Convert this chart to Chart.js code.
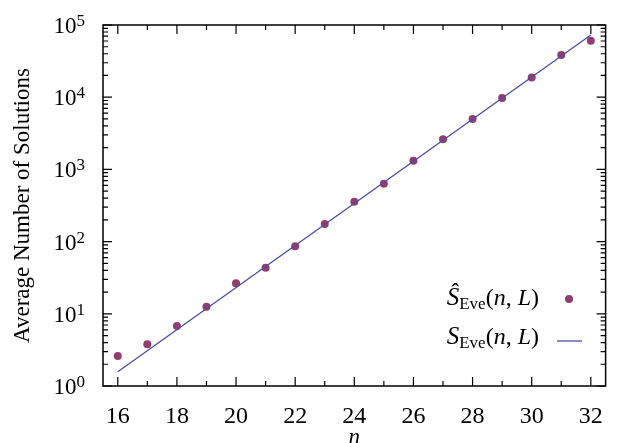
<!DOCTYPE html>
<html>
<head>
<meta charset="utf-8">
<script src="https://cdn.jsdelivr.net/npm/chart.js@4.4.1/dist/chart.umd.min.js"></script>
<style>
  html, body { margin: 0; padding: 0; background: #fff; }
  #wrap { width: 619px; height: 443px; }
</style>
</head>
<body>
<div id="wrap"><canvas id="solChart"></canvas></div>
<script>
// n values and the estimated average number of solutions (dots)
const nValues = [16, 17, 18, 19, 20, 21, 22, 23, 24, 25, 26, 27, 28, 29, 30, 31, 32];
const estimatedSolutions = [2.6, 3.8, 6.8, 12.5, 26.5, 43.5, 86, 175, 357, 633, 1320, 2610, 5000, 9760, 18800, 38400, 60600];
// theoretical curve (straight line in log scale), end points
const curveN = [16, 32];
const curveSolutions = [1.58, 72700];
// axis ticks
const xTicks = [16, 18, 20, 22, 24, 26, 28, 30, 32];
const xMinorTicks = [17, 19, 21, 23, 25, 27, 29, 31];
const yExponents = [0, 1, 2, 3, 4, 5];

const dotColor = '#943c6e';
const lineColor = '#4b4ba8';
const serif = '"Liberation Serif", "Times New Roman", Times, serif';

Chart.defaults.font.family = serif;
Chart.defaults.color = '#000';

// frame, inward ticks on all sides, y labels with exponents, legend
const gnuplotFrame = {
    id: 'gnuplotFrame',
    afterDraw(chart) {
        const ctx = chart.ctx;
        const a = chart.chartArea;
        const xs = chart.scales.x;
        const ys = chart.scales.y;
        ctx.save();
        ctx.strokeStyle = '#000';
        ctx.lineWidth = 1.5;
        ctx.strokeRect(a.left, a.top, a.right - a.left, a.bottom - a.top);

        ctx.lineWidth = 1.2;
        ctx.beginPath();
        const xTick = (v, len) => {
            const px = xs.getPixelForValue(v);
            ctx.moveTo(px, a.bottom); ctx.lineTo(px, a.bottom - len);
            ctx.moveTo(px, a.top); ctx.lineTo(px, a.top + len);
        };
        xTicks.forEach(v => xTick(v, 9));
        xMinorTicks.forEach(v => xTick(v, 5));
        const yTick = (v, len) => {
            const py = ys.getPixelForValue(v);
            ctx.moveTo(a.left, py); ctx.lineTo(a.left + len, py);
            ctx.moveTo(a.right, py); ctx.lineTo(a.right - len, py);
        };
        yExponents.forEach(e => {
            yTick(Math.pow(10, e), 9);
            if (e < 5) {
                for (let m = 2; m <= 9; m++) yTick(m * Math.pow(10, e), 5);
            }
        });
        ctx.stroke();

        // y labels 10^k
        ctx.fillStyle = '#000';
        ctx.textBaseline = 'alphabetic';
        yExponents.forEach(e => {
            const py = ys.getPixelForValue(Math.pow(10, e));
            ctx.font = '17px ' + serif;
            const ew = ctx.measureText(String(e)).width;
            ctx.textAlign = 'right';
            ctx.fillText(String(e), 85, py + 1);
            ctx.font = '23px ' + serif;
            ctx.fillText('10', 85 - ew, py + 8);
        });

        // legend, right aligned text with the sample on the right
        const drawLabel = (hat, xRight, baseline) => {
            const parts = [
                [hat ? 'Ŝ' : 'S', 'italic 25px ', 0],
                ['Eve', '17px ', 4],
                ['(', '24px ', 0],
                ['n', 'italic 24px ', 0],
                [', ', '24px ', 0],
                ['L', 'italic 24px ', 0],
                [')', '24px ', 0]
            ];
            let total = 0;
            parts.forEach(p => { ctx.font = p[1] + serif; total += ctx.measureText(p[0]).width; });
            let x = xRight - total;
            ctx.textAlign = 'left';
            parts.forEach(p => {
                ctx.font = p[1] + serif;
                ctx.fillText(p[0], x, baseline + p[2]);
                x += ctx.measureText(p[0]).width;
            });
        };
        drawLabel(true, 539, 305);
        drawLabel(false, 539, 344);
        ctx.fillStyle = dotColor;
        ctx.beginPath();
        ctx.arc(569, 299, 4, 0, Math.PI * 2);
        ctx.fill();
        ctx.strokeStyle = lineColor;
        ctx.lineWidth = 1.3;
        ctx.beginPath();
        ctx.moveTo(557, 341); ctx.lineTo(582, 341);
        ctx.stroke();
        ctx.restore();
    }
};

new Chart(document.getElementById('solChart'), {
    type: 'scatter',
    data: {
        datasets: [{
            label: 'S_Eve(n, L)',
            data: curveN.map((n, i) => ({ x: n, y: curveSolutions[i] })),
            showLine: true,
            pointRadius: 0,
            borderColor: lineColor,
            borderWidth: 1.3,
            order: 0
        }, {
            label: 'Ŝ_Eve(n, L)',
            data: nValues.map((n, i) => ({ x: n, y: estimatedSolutions[i] })),
            pointRadius: 4,
            pointHoverRadius: 4,
            backgroundColor: dotColor,
            borderWidth: 0,
            order: 1
        }]
    },
    options: {
        responsive: true,
        maintainAspectRatio: false,
        animation: false,
        layout: { padding: { top: 25, right: 6, left: 0, bottom: 0 } },
        plugins: {
            legend: { display: false },
            tooltip: { enabled: false }
        },
        scales: {
            x: {
                type: 'linear',
                min: 15.5,
                max: 32.5,
                grid: { display: false, drawTicks: false },
                border: { display: false },
                afterBuildTicks: scale => { scale.ticks = xTicks.map(v => ({ value: v })); },
                afterFit: scale => { scale.height = 57; },
                ticks: { font: { size: 24 }, padding: 16, color: '#000' },
                title: { display: true, text: 'n', font: { size: 23, style: 'italic' }, padding: { top: 0, bottom: -9 } }
            },
            y: {
                type: 'logarithmic',
                min: 1,
                max: 100000,
                grid: { display: false, drawTicks: false },
                border: { display: false },
                afterFit: scale => { scale.width = 103; },
                ticks: { display: false },
                title: { display: true, text: 'Average Number of Solutions', font: { size: 23 }, padding: { top: 9, bottom: 0 } }
            }
        }
    },
    plugins: [gnuplotFrame]
});
</script>
</body>
</html>
